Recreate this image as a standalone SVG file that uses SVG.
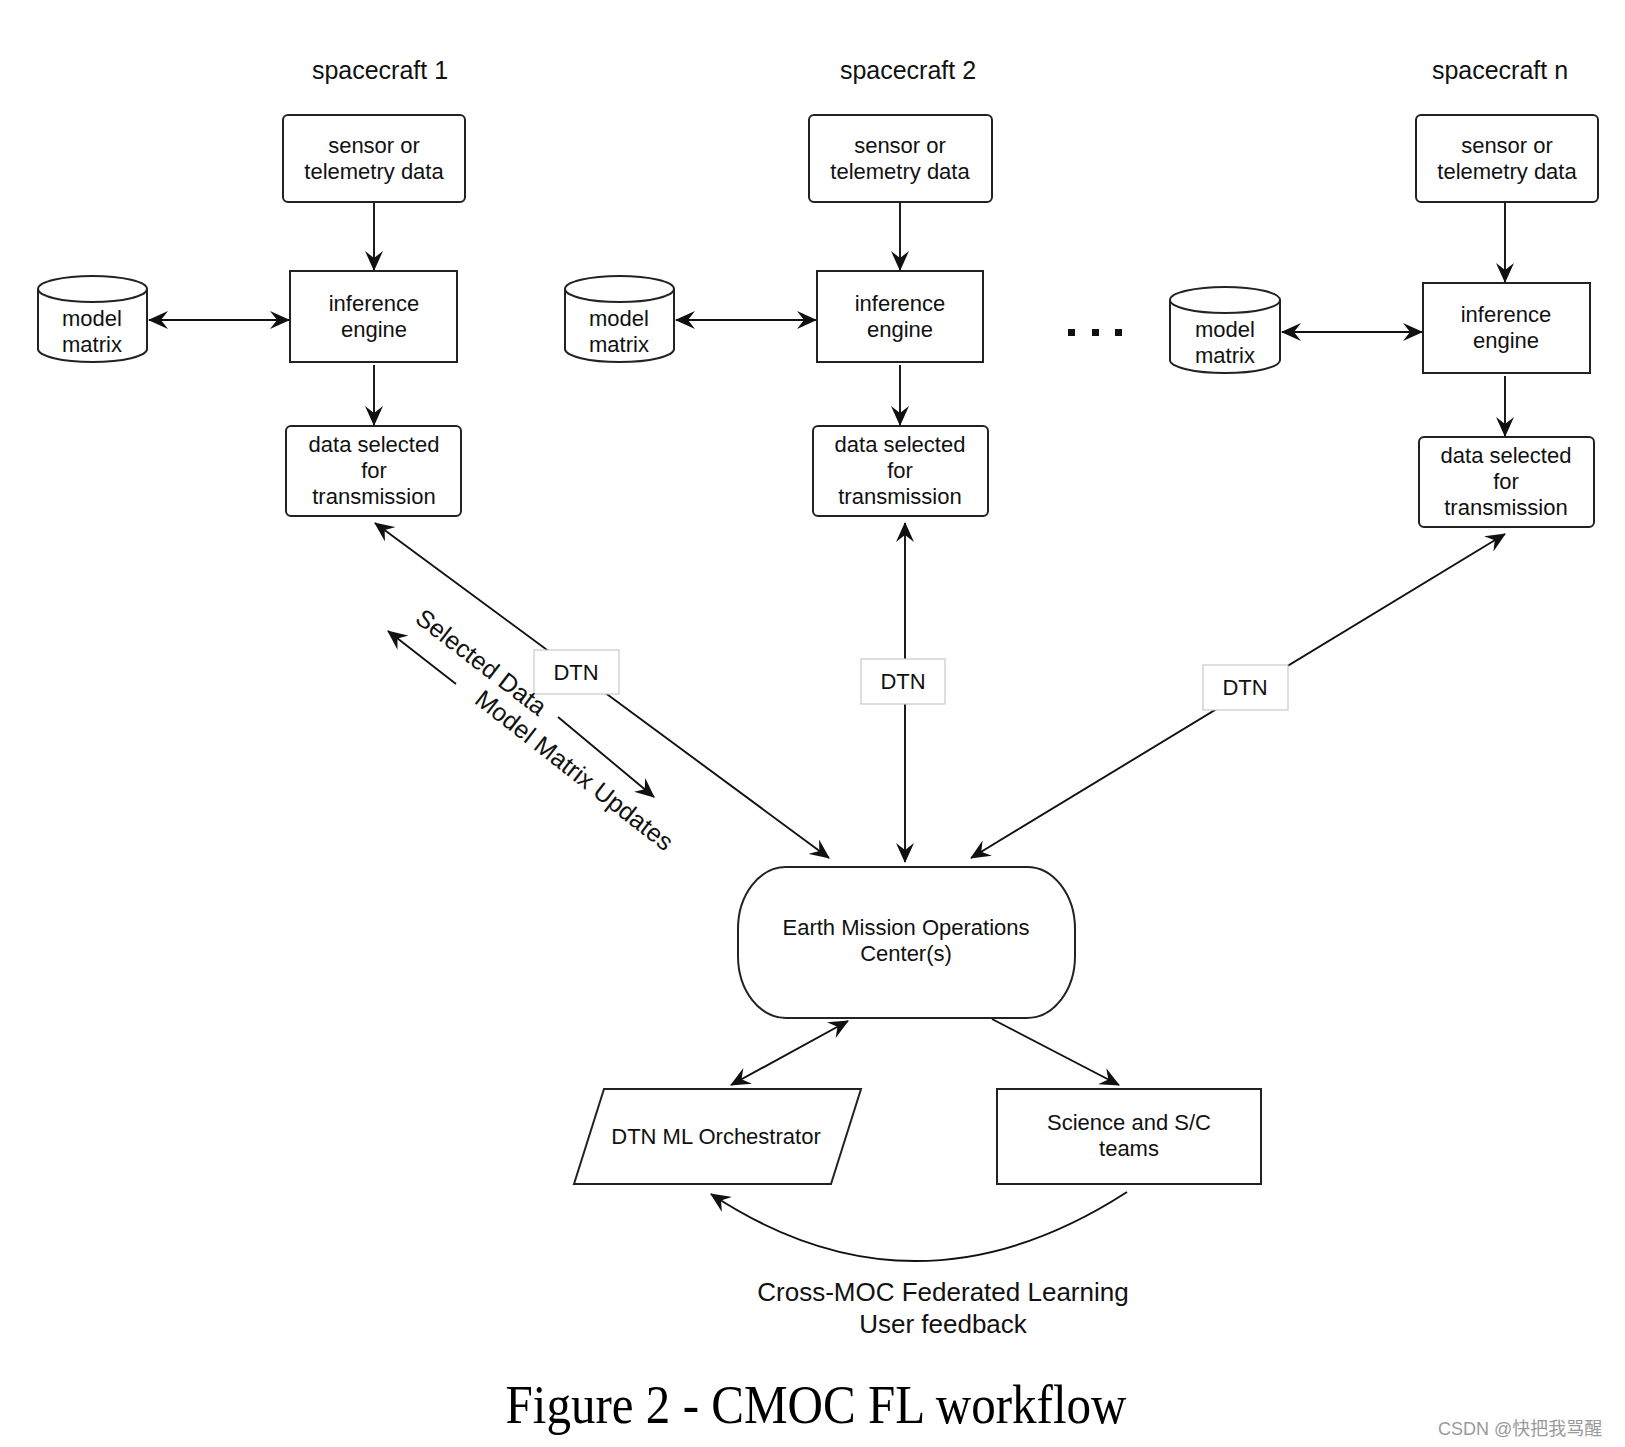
<svg xmlns="http://www.w3.org/2000/svg" width="1625" height="1447" viewBox="0 0 1625 1447">
<style>
  .t{font-family:"Liberation Sans",Arial,Helvetica,sans-serif;fill:#111;text-anchor:middle}
  .s22{font-size:22px}
  .s25{font-size:25px}
  .s26{font-size:26px}
  .box{fill:#fff;stroke:#222;stroke-width:2}
  .dtn{fill:#fff;stroke:#c8c8c8;stroke-width:1.2}
  .ln{fill:none;stroke:#111;stroke-width:1.9}
</style>
<defs>
  <marker id="ah" viewBox="0 0 20 18" refX="19" refY="9" markerWidth="20" markerHeight="18" markerUnits="userSpaceOnUse" orient="auto-start-reverse">
    <path d="M0,0 L20,9 L0,18 L7,9 Z" fill="#111"/>
  </marker>
</defs>
<rect width="1625" height="1447" fill="#fff"/>

<!-- spacecraft labels -->
<text class="t s25" x="380" y="79">spacecraft 1</text>
<text class="t s25" x="908" y="79">spacecraft 2</text>
<text class="t s25" x="1500" y="79">spacecraft n</text>

<!-- connectors -->
<g id="connectors">
  <line class="ln" x1="374" y1="203" x2="374" y2="270" marker-end="url(#ah)"/>
  <line class="ln" x1="374" y1="365" x2="374" y2="425" marker-end="url(#ah)"/>
  <line class="ln" x1="149" y1="320" x2="289" y2="320" marker-start="url(#ah)" marker-end="url(#ah)"/>

  <line class="ln" x1="900" y1="203" x2="900" y2="270" marker-end="url(#ah)"/>
  <line class="ln" x1="900" y1="365" x2="900" y2="425" marker-end="url(#ah)"/>
  <line class="ln" x1="676" y1="320" x2="816" y2="320" marker-start="url(#ah)" marker-end="url(#ah)"/>

  <line class="ln" x1="1505" y1="203" x2="1505" y2="282" marker-end="url(#ah)"/>
  <line class="ln" x1="1505" y1="376" x2="1505" y2="436" marker-end="url(#ah)"/>
  <line class="ln" x1="1282" y1="332" x2="1422" y2="332" marker-start="url(#ah)" marker-end="url(#ah)"/>

  <line class="ln" x1="375" y1="523" x2="829" y2="858" marker-start="url(#ah)" marker-end="url(#ah)"/>
  <line class="ln" x1="905" y1="523" x2="905" y2="862" marker-start="url(#ah)" marker-end="url(#ah)"/>
  <line class="ln" x1="1505" y1="534" x2="971" y2="858" marker-start="url(#ah)" marker-end="url(#ah)"/>

  <line class="ln" x1="456" y1="684" x2="388" y2="631" marker-end="url(#ah)"/>
  <line class="ln" x1="558" y1="717" x2="654" y2="797" marker-end="url(#ah)"/>

  <line class="ln" x1="848" y1="1021" x2="731" y2="1085" marker-start="url(#ah)" marker-end="url(#ah)"/>
  <line class="ln" x1="992" y1="1019" x2="1119" y2="1085" marker-end="url(#ah)"/>
  <path class="ln" d="M1127,1192 Q915,1329 711,1194" marker-end="url(#ah)"/>
</g>

<!-- dots -->
<g id="dots" fill="#111">
  <rect x="1068" y="329" width="7" height="7"/>
  <rect x="1092" y="329" width="7" height="7"/>
  <rect x="1115" y="329" width="7" height="7"/>
</g>

<!-- spacecraft 1 -->
<g id="sensor1"><rect class="box" x="283" y="115" width="182" height="87" rx="5"/>
  <text class="t s22" x="374" y="153">sensor or</text><text class="t s22" x="374" y="179">telemetry data</text></g>
<g id="infer1"><rect class="box" x="290" y="271" width="167" height="91"/>
  <text class="t s22" x="374" y="311">inference</text><text class="t s22" x="374" y="337">engine</text></g>
<g id="model1"><path class="box" d="M38,289 A54.5,13 0 0 1 147,289 V349 A54.5,13 0 0 1 38,349 Z"/><path class="ln" style="stroke:#222;stroke-width:2" d="M38,289 A54.5,13 0 0 0 147,289"/>
  <text class="t s22" x="92" y="326">model</text><text class="t s22" x="92" y="352">matrix</text></g>
<g id="data1"><rect class="box" x="286" y="426" width="175" height="90" rx="5"/>
  <text class="t s22" x="374" y="452">data selected</text><text class="t s22" x="374" y="478">for</text><text class="t s22" x="374" y="504">transmission</text></g>

<!-- spacecraft 2 -->
<g id="sensor2"><rect class="box" x="809" y="115" width="183" height="87" rx="5"/>
  <text class="t s22" x="900" y="153">sensor or</text><text class="t s22" x="900" y="179">telemetry data</text></g>
<g id="infer2"><rect class="box" x="817" y="271" width="166" height="91"/>
  <text class="t s22" x="900" y="311">inference</text><text class="t s22" x="900" y="337">engine</text></g>
<g id="model2"><path class="box" d="M565,289 A54.5,13 0 0 1 674,289 V349 A54.5,13 0 0 1 565,349 Z"/><path class="ln" style="stroke:#222;stroke-width:2" d="M565,289 A54.5,13 0 0 0 674,289"/>
  <text class="t s22" x="619" y="326">model</text><text class="t s22" x="619" y="352">matrix</text></g>
<g id="data2"><rect class="box" x="813" y="426" width="175" height="90" rx="5"/>
  <text class="t s22" x="900" y="452">data selected</text><text class="t s22" x="900" y="478">for</text><text class="t s22" x="900" y="504">transmission</text></g>

<!-- spacecraft n -->
<g id="sensorn"><rect class="box" x="1416" y="115" width="182" height="87" rx="5"/>
  <text class="t s22" x="1507" y="153">sensor or</text><text class="t s22" x="1507" y="179">telemetry data</text></g>
<g id="infern"><rect class="box" x="1423" y="283" width="167" height="90"/>
  <text class="t s22" x="1506" y="322">inference</text><text class="t s22" x="1506" y="348">engine</text></g>
<g id="modeln"><path class="box" d="M1170,300 A55,13 0 0 1 1280,300 V360 A55,13 0 0 1 1170,360 Z"/><path class="ln" style="stroke:#222;stroke-width:2" d="M1170,300 A55,13 0 0 0 1280,300"/>
  <text class="t s22" x="1225" y="337">model</text><text class="t s22" x="1225" y="363">matrix</text></g>
<g id="datan"><rect class="box" x="1419" y="437" width="175" height="90" rx="5"/>
  <text class="t s22" x="1506" y="463">data selected</text><text class="t s22" x="1506" y="489">for</text><text class="t s22" x="1506" y="515">transmission</text></g>

<!-- DTN labels -->
<g id="dtn1"><rect class="dtn" x="534" y="650" width="85" height="44"/><text class="t s22" x="576" y="680">DTN</text></g>
<g id="dtn2"><rect class="dtn" x="861" y="659" width="84" height="45"/><text class="t s22" x="903" y="689">DTN</text></g>
<g id="dtn3"><rect class="dtn" x="1203" y="665" width="85" height="45"/><text class="t s22" x="1245" y="695">DTN</text></g>

<!-- rotated labels -->
<text class="t s25" transform="translate(476,669) rotate(37.5)" x="0" y="0">Selected Data</text>
<text class="t s25" transform="translate(569,777) rotate(38)" x="0" y="0">Model Matrix Updates</text>

<!-- EMOC -->
<g id="emoc"><path class="box" d="M786,867 H1027 A48,62 0 0 1 1075,929 V956 A48,62 0 0 1 1027,1018 H786 A48,62 0 0 1 738,956 V929 A48,62 0 0 1 786,867 Z"/>
  <text class="t s22" x="906" y="935">Earth Mission Operations</text><text class="t s22" x="906" y="961">Center(s)</text></g>

<g id="orchestrator"><path class="box" d="M604,1089 H861 L831,1184 H574 Z"/>
  <text class="t s22" x="716" y="1144">DTN ML Orchestrator</text></g>

<g id="science"><rect class="box" x="997" y="1089" width="264" height="95"/>
  <text class="t s22" x="1129" y="1130">Science and S/C</text><text class="t s22" x="1129" y="1156">teams</text></g>

<text class="t s26" x="943" y="1301">Cross-MOC Federated Learning</text>
<text class="t s26" x="943" y="1333">User feedback</text>

<text x="816" y="1423" text-anchor="middle" font-family="'Liberation Serif','Times New Roman',serif" font-size="55" fill="#000" textLength="621" lengthAdjust="spacingAndGlyphs">Figure 2 - CMOC FL workflow</text>

<text x="1438" y="1435" font-family="'Liberation Sans','Noto Sans CJK SC',sans-serif" font-size="18" fill="#9a9a9a">CSDN @快把我骂醒</text>
</svg>
